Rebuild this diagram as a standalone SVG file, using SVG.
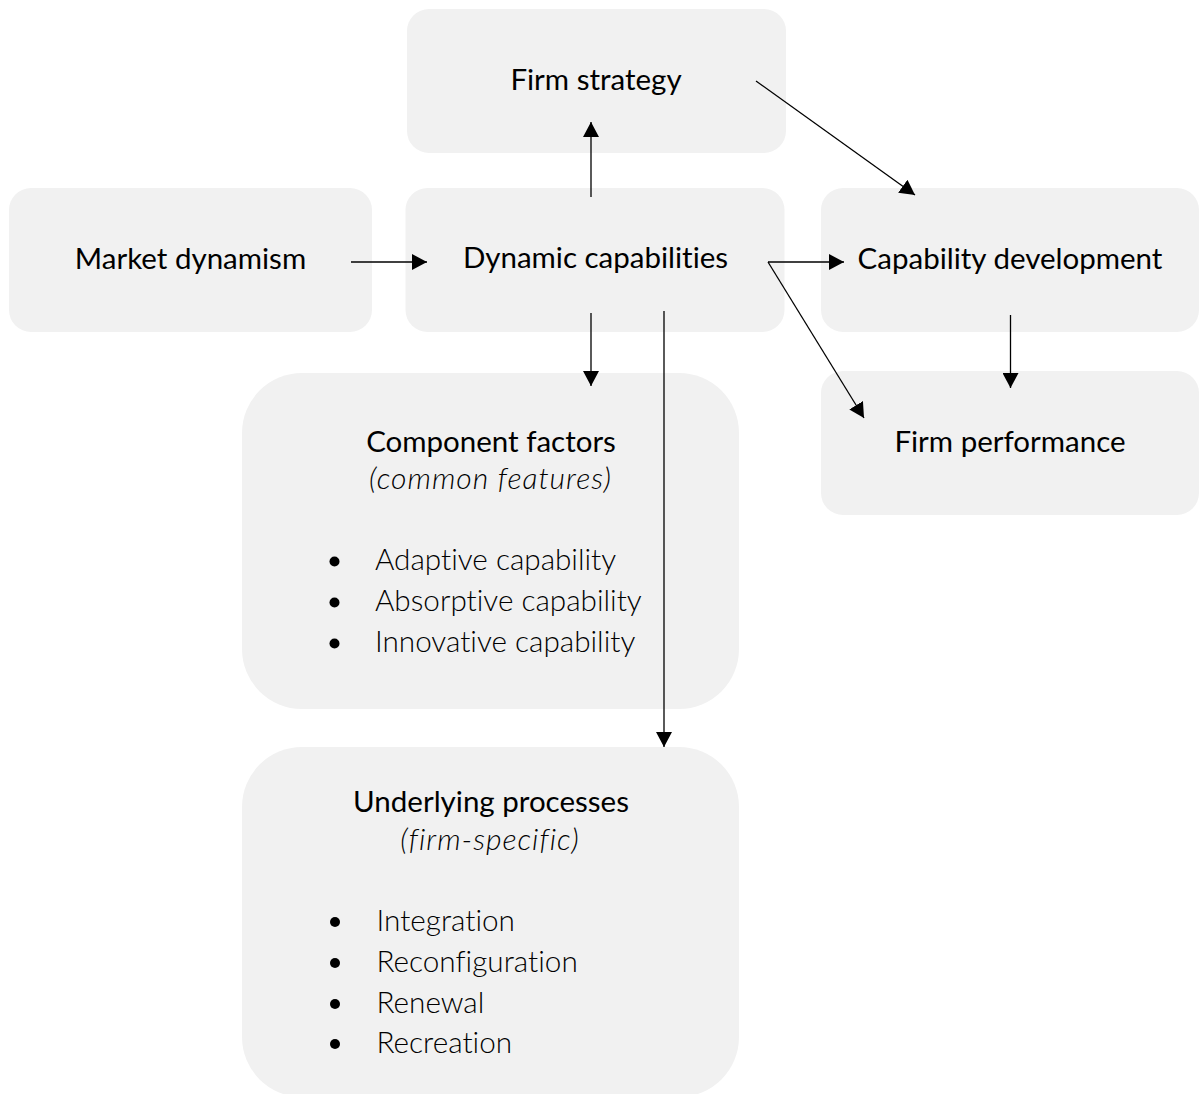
<svg xmlns="http://www.w3.org/2000/svg" width="1199" height="1094" viewBox="0 0 1199 1094">
<style>
.box{fill:#f1f1f1}
text{font-variant-ligatures:none;font-feature-settings:"liga" 0,"dlig" 0}
.t{font-family:Lato,"Liberation Sans",sans-serif;font-size:29.5px;fill:#000;text-anchor:middle}
.s{font-family:Lato,"Liberation Sans",sans-serif;font-size:30px;font-weight:300;font-style:italic;letter-spacing:1px;fill:#000;text-anchor:middle}
.b{font-family:Lato,"Liberation Sans",sans-serif;font-size:29.7px;font-weight:300;fill:#000}
.dot{fill:#000}
.c{stroke:#000;stroke-width:1.3;fill:none;marker-end:url(#ah)}
</style>
<defs>
<marker id="ah" markerUnits="userSpaceOnUse" markerWidth="16" markerHeight="16" viewBox="0 0 16 16" refX="15" refY="8" orient="auto">
<path d="M0,0 L15,8 L0,16 z" fill="#000"/>
</marker>
</defs>
<rect width="1199" height="1094" fill="#fff"/>
<g id="firm-strategy">
<rect class="box" x="407" y="9" width="379" height="144" rx="22"/>
<text class="t" x="596" y="90">Firm strategy</text>
</g>
<g id="market-dynamism">
<rect class="box" x="9" y="188" width="363" height="144" rx="22"/>
<text class="t" x="190.5" y="269">Market dynamism</text>
</g>
<g id="dynamic-capabilities">
<rect class="box" x="405.5" y="188" width="379" height="144" rx="22"/>
<text class="t" x="595.5" y="268">Dynamic capabilities</text>
</g>
<g id="capability-development">
<rect class="box" x="821" y="188" width="378" height="144" rx="22"/>
<text class="t" x="1010" y="269">Capability development</text>
</g>
<g id="firm-performance">
<rect class="box" x="821" y="371" width="378" height="144" rx="22"/>
<text class="t" x="1010" y="451.5">Firm performance</text>
</g>
<g id="component-factors">
<rect class="box" x="242" y="373" width="497" height="336" rx="60"/>
<text class="t" x="491" y="451.5">Component factors</text>
<text class="s" x="490.5" y="489">(common features)</text>
<circle class="dot" cx="334.5" cy="561.5" r="5"/>
<circle class="dot" cx="334.5" cy="602.5" r="5"/>
<circle class="dot" cx="334.5" cy="643.5" r="5"/>
<text class="b" x="375" y="570">Adaptive capability</text>
<text class="b" x="375" y="611">Absorptive capability</text>
<text class="b" x="375" y="652">Innovative capability</text>
</g>
<g id="underlying-processes">
<rect class="box" x="242" y="747" width="497" height="350" rx="60"/>
<text class="t" x="491" y="811.5">Underlying processes</text>
<text class="s" x="490" y="850">(firm-specific)</text>
<circle class="dot" cx="335" cy="922" r="5"/>
<circle class="dot" cx="335" cy="963" r="5"/>
<circle class="dot" cx="335" cy="1004" r="5"/>
<circle class="dot" cx="335" cy="1044" r="5"/>
<text class="b" x="376.5" y="930.5">Integration</text>
<text class="b" x="376.5" y="971.5">Reconfiguration</text>
<text class="b" x="376.5" y="1012.5">Renewal</text>
<text class="b" x="376.5" y="1052.5">Recreation</text>
</g>
<g id="connectors">
<line class="c" x1="591" y1="197" x2="591" y2="122"/>
<line class="c" x1="756" y1="81" x2="915" y2="195"/>
<line class="c" x1="351" y1="262" x2="427" y2="262"/>
<line class="c" x1="768" y1="262" x2="844" y2="262"/>
<line class="c" x1="768" y1="262" x2="864" y2="418"/>
<line class="c" x1="591" y1="313" x2="591" y2="386"/>
<line class="c" x1="664" y1="311" x2="664" y2="747"/>
<line class="c" x1="1010.5" y1="315" x2="1010.5" y2="388"/>
</g>
</svg>
